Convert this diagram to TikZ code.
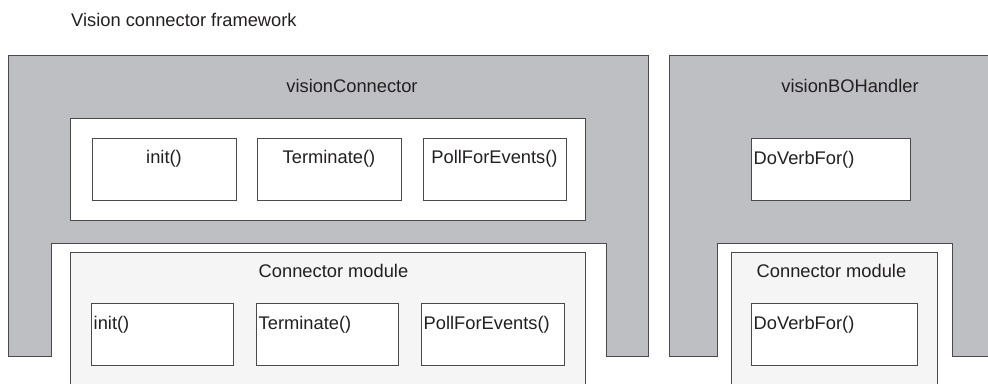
\documentclass[tikz,border=0pt]{standalone}
\usepackage{fontspec}
\setmainfont{Liberation Sans}
\definecolor{shell}{HTML}{BEBFC3}
\definecolor{modfill}{HTML}{F5F5F5}
\definecolor{edge}{HTML}{4A4A4A}
\definecolor{ink}{HTML}{231F20}
\tikzset{
  every node/.style={font=\fontsize{18.3}{22}\selectfont, text=ink},
  shellshape/.style={fill=shell, draw=edge, line width=1pt},
  plainbox/.style={draw=edge, line width=1pt, fill=white, rectangle, inner sep=0pt, anchor=north west},
  modbox/.style={draw=edge, line width=1pt, fill=modfill},
  lbl/.style={inner sep=0pt, anchor=base},
  lbll/.style={inner sep=0pt, anchor=base west}
}
\begin{document}
\begin{tikzpicture}[x=1pt, y=-1pt]
\useasboundingbox (0,0) rectangle (988,383);
\clip (0,0) rectangle (988,383);
% title
\node[lbll] (title) at (71,26.5) {Vision connector framework};
% left grey shell
\draw[shellshape] (8,55) -- (648,55) -- (648,356) -- (606,356) -- (606,243) -- (51,243) -- (51,356) -- (8,356) -- cycle;
\node[lbl] (vc) at (352,92.5) {visionConnector};
% top white panel
\node[plainbox, minimum width=515pt, minimum height=102pt] (panel) at (70,118) {};
\node[plainbox, minimum width=144pt, minimum height=62pt] (tinit) at (92,138) {};
\node[plainbox, minimum width=144pt, minimum height=62pt] (tterm) at (257,138) {};
\node[plainbox, minimum width=143pt, minimum height=62pt] (tpoll) at (423,138) {};
\node[lbl] (tinitl) at (164,163.5) {init()};
\node[lbl] (tterml) at (329,163.5) {Terminate()};
\node[lbl] (tpolll) at (494.5,163.5) {PollForEvents()};
% left connector module
\draw[modbox] (70,400) -- (70,252.5) -- (585,252.5) -- (585,400);
\node[lbl] (cm1) at (333.5,277.5) {Connector module};
\node[plainbox, minimum width=142pt, minimum height=62pt] (binit) at (91,303) {};
\node[plainbox, minimum width=142pt, minimum height=62pt] (bterm) at (256,303) {};
\node[plainbox, minimum width=143pt, minimum height=62pt] (bpoll) at (421,303) {};
\node[lbll] (binitl) at (93.5,329) {init()};
\node[lbll] (bterml) at (258.5,329) {Terminate()};
\node[lbll] (bpolll) at (423.5,329) {PollForEvents()};
% right grey shell
\draw[shellshape] (995,55) -- (669,55) -- (669,356) -- (717,356) -- (717,243) -- (952,243) -- (952,356) -- (995,356);
\fill[shell] (953,244) rectangle (995,355);
\node[lbl] (bo) at (850,92.5) {visionBOHandler};
\node[plainbox, minimum width=159pt, minimum height=62pt] (tverb) at (751,138) {};
\node[lbll] (tverbl) at (753.5,164.5) {DoVerbFor()};
% right connector module
\draw[modbox] (731,400) -- (731,252.5) -- (937,252.5) -- (937,400);
\node[lbl] (cm2) at (831.5,277.5) {Connector module};
\node[plainbox, minimum width=166pt, minimum height=62pt] (bverb) at (751,303) {};
\node[lbll] (bverbl) at (753.5,329) {DoVerbFor()};
\end{tikzpicture}
\end{document}
